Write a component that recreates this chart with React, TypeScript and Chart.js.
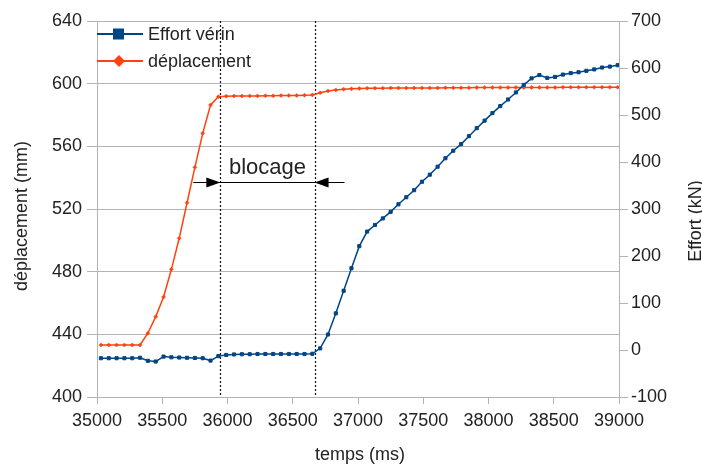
import React, { useEffect, useRef } from 'react';
import { Chart, registerables } from 'chart.js';

Chart.register(...registerables);

// ---------- data ----------
const TIME_MS = [
  35030, 35090, 35150, 35210, 35270, 35330, 35390, 35450, 35510, 35570,
  35630, 35690, 35750, 35810, 35870, 35930, 35990, 36050, 36110, 36170,
  36230, 36290, 36350, 36410, 36470, 36530, 36590, 36650, 36710, 36770,
  36830, 36890, 36950, 37010, 37070, 37130, 37190, 37250, 37310, 37370,
  37430, 37490, 37550, 37610, 37670, 37730, 37790, 37850, 37910, 37970,
  38030, 38090, 38150, 38210, 38270, 38330, 38390, 38450, 38510, 38570,
  38630, 38690, 38750, 38810, 38870, 38930, 38990,
];

const EFFORT_KN = [
  -17.5, -17.5, -17.5, -17.5, -17.5, -16.5, -23, -24.5, -14, -15.5,
  -16, -16.5, -17, -17.5, -22.5, -13, -10.5, -9.5, -9, -9,
  -8.5, -8.5, -8.5, -8.5, -8.5, -8.5, -8.5, -8, 3.5, 33,
  78, 126, 174, 221, 252, 266, 280, 294, 310, 325,
  340, 358, 373, 390, 408, 424, 438, 455, 472, 488,
  504, 519, 533, 548, 564, 578, 585, 579, 581, 586,
  589, 591, 594, 597, 601, 603, 606,
];

const DEPLACEMENT_MM = [
  433.2, 433.2, 433.2, 433.2, 433.2, 433.2, 440.7, 451.3, 463.8, 481.5,
  501.3, 524, 546.6, 568.3, 586.4, 591.7, 592, 592.1, 592.1, 592.2,
  592.2, 592.3, 592.3, 592.4, 592.4, 592.5, 592.6, 592.8, 594.2, 595.3,
  596, 596.4, 596.7, 596.9, 597, 597.1, 597.1, 597.2, 597.2, 597.2,
  597.3, 597.3, 597.3, 597.3, 597.4, 597.4, 597.4, 597.4, 597.5, 597.5,
  597.5, 597.5, 597.5, 597.6, 597.6, 597.6, 597.6, 597.6, 597.6, 597.7,
  597.7, 597.7, 597.7, 597.7, 597.7, 597.7, 597.7,
];

const X_TICKS = [35000, 35500, 36000, 36500, 37000, 37500, 38000, 38500, 39000];
const Y_LEFT_TICKS = [400, 440, 480, 520, 560, 600, 640];
const Y_RIGHT_TICKS = [-100, 0, 100, 200, 300, 400, 500, 600, 700];

const SERIES_LABELS = ['Effort vérin', 'déplacement'];
const X_TITLE = 'temps (ms)';
const Y_LEFT_TITLE = 'déplacement (mm)';
const Y_RIGHT_TITLE = 'Effort (kN)';

const BLOCAGE_LABEL = 'blocage';
const BLOCAGE_START_MS = 35945;
const BLOCAGE_END_MS = 36667;
const BLOCAGE_ARROW_MM = 537.5;

// ---------- style ----------
const FONT = '"Liberation Sans", Arial, sans-serif';
const TEXT = '#222222';
const GRID = '#b3b3b3';
const BLUE = '#004586';
const ORANGE = '#ff420e';
const W = 702;
const H = 464;

const overlayPlugin = {
  id: 'overlay',
  beforeDatasetsDraw(chart: any) {
    const { ctx, chartArea: ca, scales } = chart;
    const xs = scales.x;
    ctx.save();
    ctx.strokeStyle = '#111111';
    ctx.lineWidth = 1.2;
    ctx.setLineDash([2, 2]);
    [BLOCAGE_START_MS, BLOCAGE_END_MS].forEach((v) => {
      const px = Math.round(xs.getPixelForValue(v)) + 0.5;
      ctx.beginPath();
      ctx.moveTo(px, ca.top);
      ctx.lineTo(px, ca.bottom);
      ctx.stroke();
    });
    ctx.restore();
  },
  afterDraw(chart: any) {
    const { ctx, scales, chartArea: ca } = chart;
    const xs = scales.x;
    const ys = scales.y;
    ctx.save();

    // blocage arrows and label
    const x1 = xs.getPixelForValue(BLOCAGE_START_MS);
    const x2 = xs.getPixelForValue(BLOCAGE_END_MS);
    const ay = Math.round(ys.getPixelForValue(BLOCAGE_ARROW_MM)) + 0.5;
    ctx.strokeStyle = '#000000';
    ctx.fillStyle = '#000000';
    ctx.lineWidth = 1;
    ctx.setLineDash([]);
    ctx.beginPath();
    ctx.moveTo(x1 - 27, ay);
    ctx.lineTo(x2 + 30, ay);
    ctx.stroke();
    const head = (tip: number, dir: number) => {
      ctx.beginPath();
      ctx.moveTo(tip, ay);
      ctx.lineTo(tip - dir * 14, ay - 5);
      ctx.lineTo(tip - dir * 14, ay + 5);
      ctx.closePath();
      ctx.fill();
    };
    head(x1, 1);
    head(x2, -1);
    ctx.fillStyle = TEXT;
    ctx.font = `22px ${FONT}`;
    ctx.textAlign = 'center';
    ctx.textBaseline = 'alphabetic';
    ctx.fillText(BLOCAGE_LABEL, (x1 + x2) / 2, ay - 8.5);

    // legend
    const rows = [34, 61];
    chart.data.datasets.forEach((ds: any, i: number) => {
      const y = rows[i];
      const col = ds.borderColor;
      ctx.strokeStyle = col;
      ctx.fillStyle = col;
      ctx.lineWidth = 2;
      ctx.beginPath();
      ctx.moveTo(97, y);
      ctx.lineTo(143, y);
      ctx.stroke();
      if (ds.pointStyle === 'rect') {
        ctx.fillRect(113, y - 5.5, 11, 11);
      } else {
        ctx.beginPath();
        ctx.moveTo(119, y - 6);
        ctx.lineTo(125, y);
        ctx.lineTo(119, y + 6);
        ctx.lineTo(113, y);
        ctx.closePath();
        ctx.fill();
      }
      ctx.fillStyle = TEXT;
      ctx.font = `18px ${FONT}`;
      ctx.textAlign = 'left';
      ctx.textBaseline = 'middle';
      ctx.fillText(ds.label, 148, y + 1);
    });

    // axis titles
    ctx.fillStyle = TEXT;
    ctx.font = `18px ${FONT}`;
    ctx.textAlign = 'center';
    ctx.textBaseline = 'middle';
    ctx.fillText(X_TITLE, (ca.left + ca.right) / 2 + 2, 455);
    ctx.save();
    ctx.translate(22, 216);
    ctx.rotate(-Math.PI / 2);
    ctx.fillText(Y_LEFT_TITLE, 0, 0);
    ctx.restore();
    ctx.save();
    ctx.translate(696, 221);
    ctx.rotate(-Math.PI / 2);
    ctx.fillText(Y_RIGHT_TITLE, 0, 0);
    ctx.restore();

    ctx.restore();
  },
};

export default function App() {
  const ref = useRef<HTMLCanvasElement | null>(null);

  useEffect(() => {
    document.body.style.margin = '0';
    document.body.style.overflow = 'hidden';
    const canvas = ref.current;
    if (!canvas) return;

    const tickFont = { family: FONT, size: 18 };

    const chart = new Chart(canvas, {
      type: 'line',
      data: {
        datasets: [
          {
            label: SERIES_LABELS[0],
            data: TIME_MS.map((t, i) => ({ x: t, y: EFFORT_KN[i] })),
            yAxisID: 'y1',
            borderColor: BLUE,
            backgroundColor: BLUE,
            borderWidth: 1.5,
            pointStyle: 'rect',
            pointRadius: 2.2,
            pointBorderWidth: 1,
            pointBorderColor: BLUE,
            pointBackgroundColor: BLUE,
            tension: 0,
          },
          {
            label: SERIES_LABELS[1],
            data: TIME_MS.map((t, i) => ({ x: t, y: DEPLACEMENT_MM[i] })),
            yAxisID: 'y',
            borderColor: ORANGE,
            backgroundColor: ORANGE,
            borderWidth: 1.5,
            pointStyle: 'rectRot',
            pointRadius: 2,
            pointBorderWidth: 0.5,
            pointBorderColor: ORANGE,
            pointBackgroundColor: ORANGE,
            tension: 0,
          },
        ],
      },
      options: {
        responsive: false,
        animation: false,
        events: [],
        layout: { padding: { top: 21, left: 0, right: 0, bottom: 0 } },
        plugins: {
          legend: { display: false },
          tooltip: { enabled: false },
        },
        scales: {
          x: {
            type: 'linear',
            min: 35000,
            max: 39000,
            afterBuildTicks: (s: any) => {
              s.ticks = X_TICKS.map((v) => ({ value: v }));
            },
            afterFit: (s: any) => {
              s.height = H - 397;
            },
            ticks: {
              font: tickFont,
              color: TEXT,
              padding: 6,
              autoSkip: false,
              maxRotation: 0,
              callback: (v: any) => String(v),
            },
            grid: { drawOnChartArea: false, color: GRID, tickLength: 7 },
            border: { color: GRID },
          },
          y: {
            type: 'linear',
            position: 'left',
            min: 400,
            max: 640,
            afterBuildTicks: (s: any) => {
              s.ticks = Y_LEFT_TICKS.map((v) => ({ value: v }));
            },
            afterFit: (s: any) => {
              s.width = 97;
            },
            ticks: {
              font: tickFont,
              color: TEXT,
              padding: 5,
              callback: (v: any) => String(v),
            },
            grid: { color: GRID, tickLength: 10 },
            border: { color: GRID },
          },
          y1: {
            type: 'linear',
            position: 'right',
            min: -100,
            max: 700,
            afterBuildTicks: (s: any) => {
              s.ticks = Y_RIGHT_TICKS.map((v) => ({ value: v }));
            },
            afterFit: (s: any) => {
              s.width = W - 619;
            },
            ticks: {
              font: tickFont,
              color: TEXT,
              padding: 3,
              callback: (v: any) => String(v),
            },
            grid: { drawOnChartArea: false, color: GRID, tickLength: 9 },
            border: { color: GRID },
          },
        },
      },
      plugins: [overlayPlugin],
    } as any);

    return () => {
      chart.destroy();
    };
  }, []);

  return (
    <div style={{ width: W, height: H, background: '#ffffff' }}>
      <canvas ref={ref} width={W} height={H} style={{ display: 'block', width: W, height: H }} />
    </div>
  );
}
